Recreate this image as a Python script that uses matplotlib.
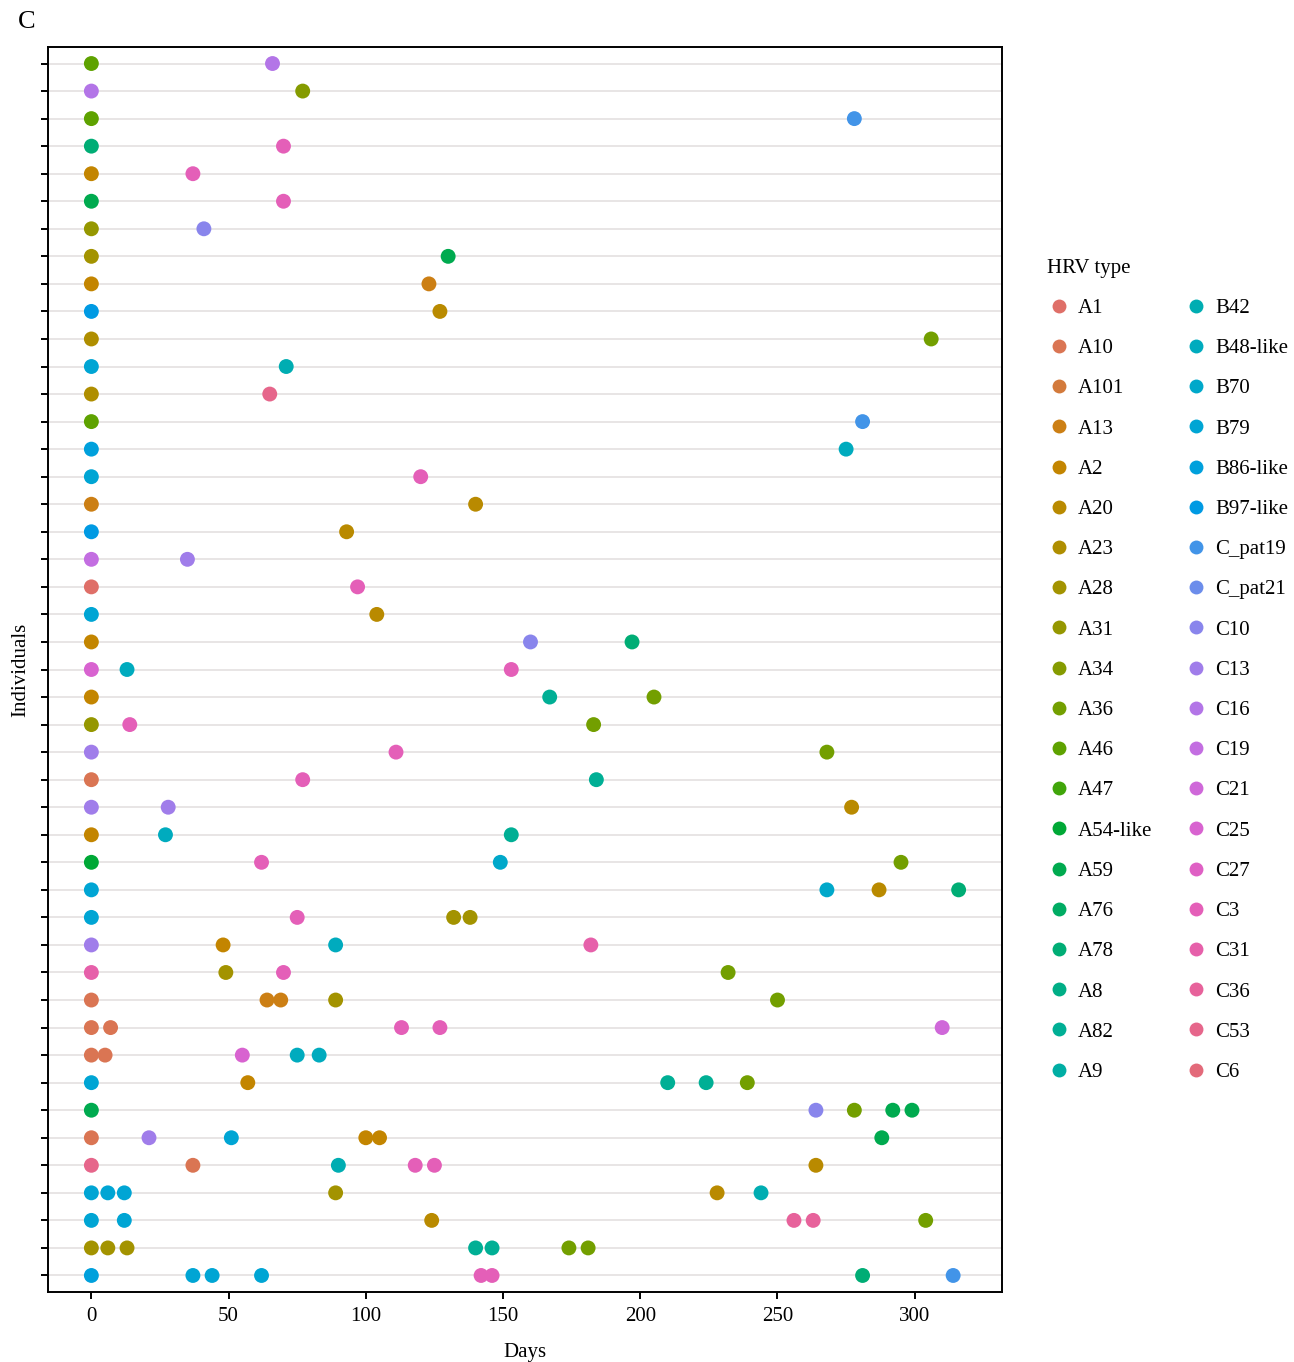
import numpy as np
import matplotlib

matplotlib.use("Agg")
import matplotlib.pyplot as plt  # noqa: E402
from matplotlib.lines import Line2D  # noqa: E402

# HRV types, in the order ggplot lists them (alphabetical factor levels)
hrv_types = [
    "A1", "A10", "A101", "A13", "A2", "A20", "A23", "A28", "A31", "A34",
    "A36", "A46", "A47", "A54-like", "A59", "A76", "A78", "A8", "A82", "A9",
    "B42", "B48-like", "B70", "B79", "B86-like", "B97-like", "C_pat19",
    "C_pat21", "C10", "C13", "C16", "C19", "C21", "C25", "C27", "C3",
    "C31", "C36", "C53", "C6",
]

# one list per individual (top row first): sampling day and detected type
visit_days = [
    [0, 66], [0, 77], [0, 278], [0, 70], [0, 37], [0, 70], [0, 41],
    [0, 130], [0, 123], [0, 127], [0, 306], [0, 71], [0, 65], [0, 281],
    [0, 275], [0, 120], [0, 140], [0, 93], [0, 35], [0, 97], [0, 104],
    [0, 160, 197], [0, 13, 153], [0, 167, 205], [0, 14, 183],
    [0, 111, 268], [0, 77, 184], [0, 28, 277], [0, 27, 153],
    [0, 62, 149, 295], [0, 268, 287, 316], [0, 75, 132, 138],
    [0, 48, 89, 182], [0, 49, 70, 232], [0, 64, 69, 89, 250],
    [0, 7, 113, 127, 310], [0, 5, 55, 75, 83], [0, 57, 210, 224, 239],
    [0, 264, 278, 292, 299], [0, 21, 51, 100, 105, 288],
    [0, 37, 90, 118, 125, 264], [0, 6, 12, 89, 228, 244],
    [0, 12, 124, 256, 263, 304], [0, 6, 13, 140, 146, 174, 181],
    [0, 37, 44, 62, 142, 146, 281, 314],
]
visit_types = [
    ["A46", "C16"], ["C16", "A34"], ["A46", "C_pat19"], ["A78", "C3"],
    ["A2", "C3"], ["A59", "C3"], ["A31", "C10"], ["A28", "A59"],
    ["A2", "A13"], ["B97-like", "A20"], ["A23", "A36"], ["B79", "B42"],
    ["A23", "C53"], ["A46", "C_pat19"], ["B86-like", "B48-like"],
    ["B79", "C3"], ["A13", "A20"], ["B97-like", "A20"], ["C19", "C13"],
    ["A1", "C3"], ["B79", "A20"],
    ["A2", "C10", "A78"], ["C25", "B48-like", "C3"], ["A2", "A82", "A36"],
    ["A31", "C3", "A36"], ["C13", "C3", "A36"], ["A10", "C3", "A82"],
    ["C13", "C13", "A20"], ["A2", "B48-like", "A82"],
    ["A54-like", "C3", "B70", "A36"], ["B79", "B70", "A20", "A78"],
    ["B79", "C3", "A28", "A28"], ["C13", "A2", "B48-like", "C31"],
    ["C31", "A28", "C3", "A36"], ["A10", "A13", "A13", "A28", "A36"],
    ["A10", "A10", "C3", "C3", "C21"], ["A10", "A10", "C25", "B48-like", "B48-like"],
    ["B79", "A2", "A82", "A82", "A36"], ["A59", "C10", "A36", "A59", "A59"],
    ["A10", "C13", "B79", "A2", "A2", "A59"],
    ["C53", "A10", "B42", "C3", "C3", "A20"],
    ["B79", "B79", "B79", "A28", "A20", "B42"],
    ["B79", "B79", "A20", "C36", "C36", "A36"],
    ["A28", "A28", "A28", "A82", "A82", "A36", "A36"],
    ["B86-like", "B79", "B79", "B79", "C3", "C3", "A78", "C_pat19"],
]
x_ticks = [0, 50, 100, 150, 200, 250, 300]


def hue_palette(n, l=60, c=85):
    """Equally spaced HCL hues like ggplot2, a bit muted as in print."""
    hues = np.linspace(15, 375, n + 1)[:n]
    xn, yn, zn = 95.047, 100.0, 108.883
    un = 4 * xn / (xn + 15 * yn + 3 * zn)
    vn = 9 * yn / (xn + 15 * yn + 3 * zn)
    y = yn * ((l + 16) / 116) ** 3
    m = np.array([[3.2404542, -1.5371385, -0.4985314],
                  [-0.9692660, 1.8760108, 0.0415560],
                  [0.0556434, -0.2040259, 1.0572252]])
    out = []
    for h in hues:
        u = c * np.cos(np.radians(h)) / (13 * l) + un
        v = c * np.sin(np.radians(h)) / (13 * l) + vn
        x = y * 9 * u / (4 * v)
        z = y * (12 - 3 * u - 20 * v) / (4 * v)
        rgb = m @ (np.array([x, y, z]) / 100)
        rgb = np.where(rgb <= 0.0031308, 12.92 * rgb,
                       1.055 * np.clip(rgb, 0, None) ** (1 / 2.4) - 0.055)
        out.append(tuple(np.clip(rgb, 0, 1)))
    return out


colours = dict(zip(hrv_types, hue_palette(len(hrv_types))))

plt.rcParams["font.family"] = ["Liberation Serif", "DejaVu Serif"]

fig = plt.figure(figsize=(12.94, 13.62), dpi=100)
ax = fig.add_axes([48 / 1294, 1 - 1292 / 1362, 954 / 1294, 1245 / 1362])

n_rows = len(visit_days)
for row, (days, types) in enumerate(zip(visit_days, visit_types)):
    ax.axhline(row, color="#e6e3e3", lw=1.3, zorder=1)
    ax.scatter(days, [row] * len(days), s=115,
               c=[colours[t] for t in types], edgecolors="none", zorder=3)

all_days = [d for days in visit_days for d in days]
span = max(all_days) - min(all_days)
ax.set_xlim(min(all_days) - 0.05 * span, max(all_days) + 0.05 * span)
ax.set_ylim(n_rows - 1 + 0.6, -0.6)

ax.set_xticks(x_ticks)
ax.set_yticks(range(n_rows))
ax.set_yticklabels([])
ax.tick_params(axis="both", length=5, width=1.4, color="black",
               labelsize=15, pad=6)
for spine in ax.spines.values():
    spine.set_linewidth(1.4)

ax.set_xlabel("Days", fontsize=15, labelpad=12)
ax.set_ylabel("Individuals", fontsize=15, labelpad=2)
fig.text(18 / 1294, 1 - 22 / 1362, "C", fontsize=19, va="center", ha="left")

handles = [Line2D([], [], marker="o", linestyle="", markersize=10,
                  markeredgewidth=0, color=colours[t]) for t in hrv_types]
fig.legend(handles, hrv_types, loc="upper left", ncol=2, frameon=False,
           bbox_to_anchor=(1028 / 1294, 1 - 240 / 1362),
           title="HRV type", title_fontsize=15, fontsize=15,
           alignment="left", labelspacing=0.99, columnspacing=1.5,
           handletextpad=0.3, handlelength=1.2)

fig.savefig("out.png", dpi=100)
plt.close(fig)
